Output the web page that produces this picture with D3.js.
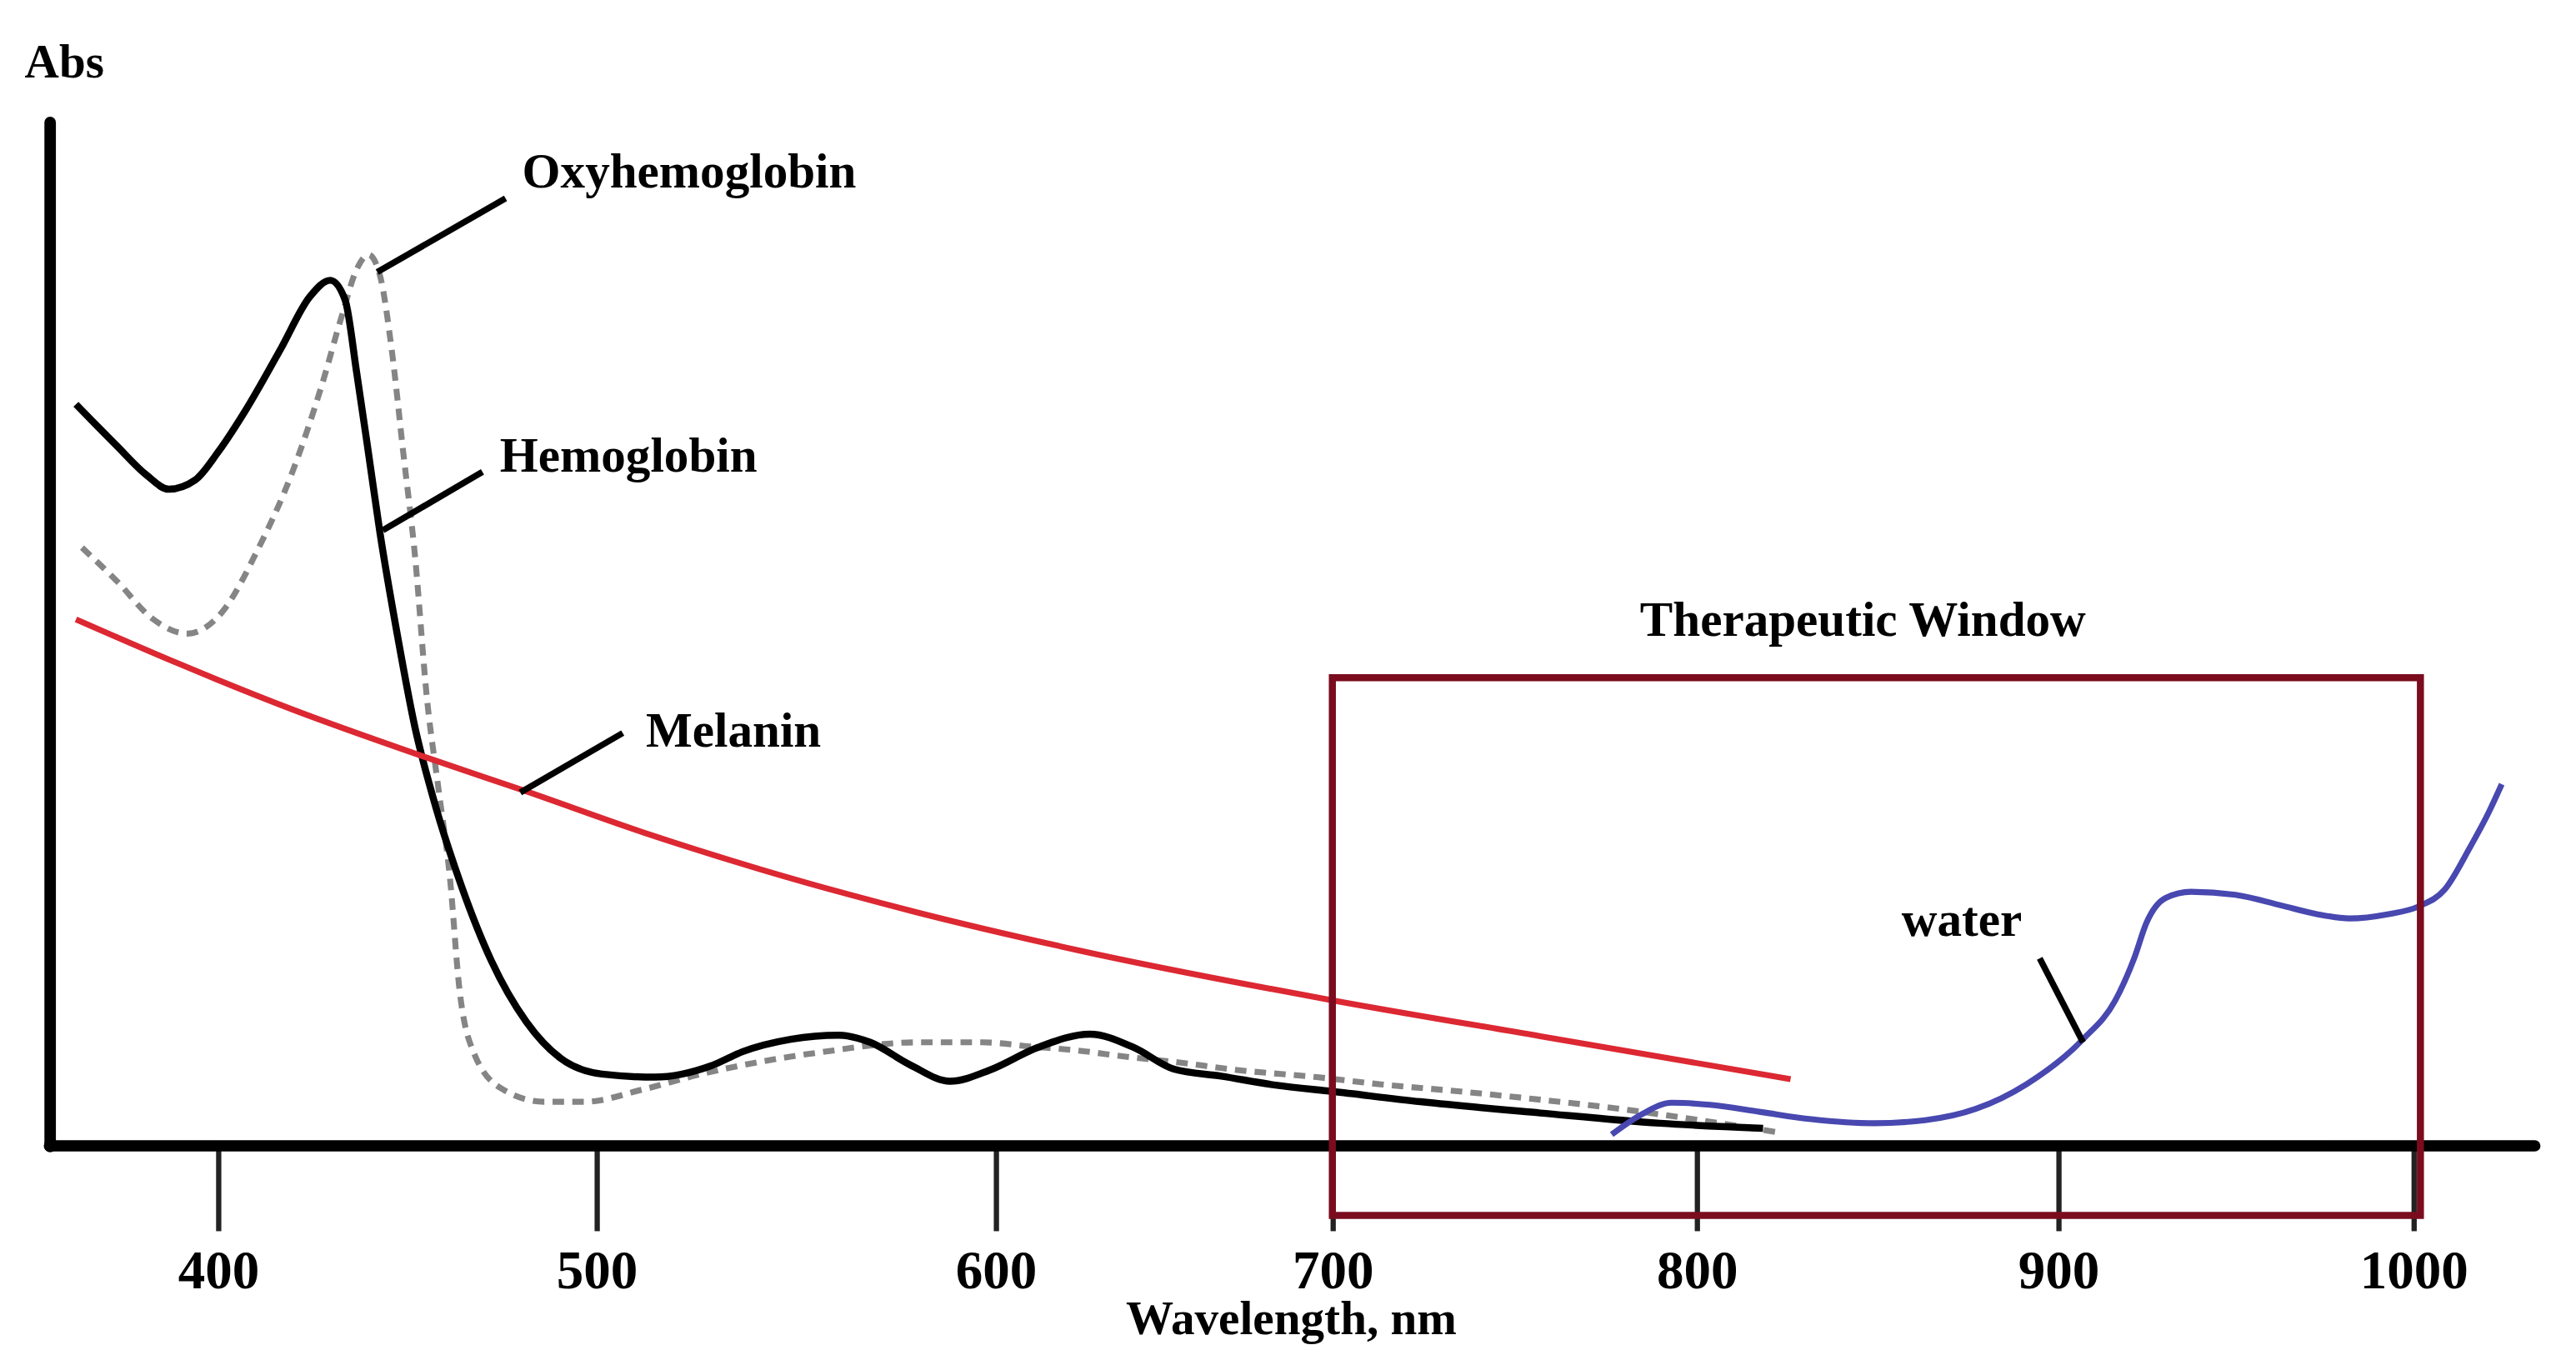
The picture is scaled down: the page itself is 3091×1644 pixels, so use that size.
<!DOCTYPE html>
<html>
<head>
    <title>Absorption spectra and the therapeutic window</title>
    <style>
        body, html {
            margin: 0;
            padding: 0;
            background: #fff;
            overflow: hidden;
        }
        svg { display: block; }
        .lbl {
            font-family: "Liberation Serif", "Times New Roman", serif;
            font-weight: bold;
            fill: #000;
        }
    </style>
    <script src="https://d3js.org/d3.v7.min.js"></script>
</head>
<body>
<script>
// ---- data: [wavelength nm, absorbance (arbitrary units, axis top = 1)]
const tickValues = [400, 500, 600, 700, 800, 900, 1000];

const hemoglobin = [
    [362.5, 0.724], [373.4, 0.683], [381.1, 0.655], [387.0, 0.641], [394.0, 0.650],
    [400.0, 0.677], [407.3, 0.718], [416.6, 0.778], [424.3, 0.829], [429.7, 0.845],
    [433.6, 0.826], [436.7, 0.754], [439.8, 0.676], [442.8, 0.599], [447.5, 0.497],
    [452.1, 0.408], [456.7, 0.342], [464.5, 0.252], [472.2, 0.181], [481.5, 0.121],
    [490.7, 0.085], [501.4, 0.070], [514.7, 0.067], [528.7, 0.078], [536.7, 0.092],
    [548.7, 0.104], [560.7, 0.108], [568.6, 0.101], [578.6, 0.079], [588.6, 0.063],
    [598.6, 0.074], [612.5, 0.096], [628.0, 0.109], [641.0, 0.096], [652.8, 0.075],
    [667.0, 0.068], [683.6, 0.059], [700.1, 0.053], [724.2, 0.043], [757.1, 0.032],
    [789.9, 0.022], [818.4, 0.017]
];

const oxyhemoglobin = [
    [364.1, 0.584], [373.4, 0.551], [382.6, 0.515], [391.9, 0.500], [401.1, 0.521],
    [410.4, 0.581], [419.7, 0.658], [427.4, 0.742], [432.8, 0.811], [436.7, 0.856],
    [439.8, 0.870], [442.8, 0.850], [445.9, 0.778], [449.0, 0.676], [452.1, 0.575],
    [455.2, 0.438], [458.3, 0.348], [461.4, 0.258], [463.7, 0.157], [467.6, 0.091],
    [475.3, 0.055], [486.1, 0.043], [496.9, 0.043], [511.7, 0.055], [526.3, 0.070],
    [541.0, 0.082], [555.6, 0.091], [580.6, 0.101], [596.6, 0.101], [610.2, 0.097],
    [624.4, 0.093], [638.6, 0.087], [652.8, 0.082], [671.7, 0.074], [695.4, 0.067],
    [713.3, 0.060], [735.1, 0.053], [757.1, 0.045], [779.0, 0.036], [800.8, 0.025],
    [822.9, 0.013]
];

const melanin = [
    [362.5, 0.514], [388.8, 0.472], [419.7, 0.426], [455.2, 0.379], [481.5, 0.346],
    [511.7, 0.306], [541.0, 0.270], [580.2, 0.228], [624.4, 0.191], [700.1, 0.142],
    [757.1, 0.107], [826.0, 0.065]
];

const water = [
    [776.7, 0.011], [784.6, 0.030], [793.2, 0.042], [803.7, 0.040], [817.7, 0.033],
    [831.7, 0.026], [849.2, 0.022], [863.2, 0.025], [877.2, 0.036], [891.2, 0.060],
    [907.0, 0.104], [916.1, 0.142], [921.4, 0.183], [924.9, 0.218], [930.3, 0.242],
    [937.4, 0.248], [949.9, 0.245], [962.4, 0.235], [973.1, 0.226], [982.0, 0.222],
    [992.7, 0.226], [1001.7, 0.234], [1008.8, 0.250], [1015.9, 0.291], [1021.3, 0.326],
    [1024.9, 0.353]
];

// callout text, where the text starts, and the leader line (curve end -> text end)
const callouts = [
    { text: 'Oxyhemoglobin', at: [480.4, 0.936], from: [442.1, 0.853], to: [476.0, 0.925] },
    { text: 'Hemoglobin',    at: [474.5, 0.658], from: [443.6, 0.601], to: [469.9, 0.658] },
    { text: 'Melanin',       at: [512.4, 0.390], from: [479.9, 0.345], to: [506.6, 0.403] },
    { text: 'water',         at: [856.7, 0.205], from: [907.0, 0.101], to: [894.9, 0.183] }
];

const windowNm = [700, 1002];
const windowAbs = [-0.068, 0.457];
const windowTitle = { text: 'Therapeutic Window', at: [846, 0.498] };

// ---- layout (drawing units; the page scales them up to the window)
const W = 1568, H = 834;
const tickPx = [132.6, 363, 606, 811, 1032.7, 1252.8, 1469];   // hand drawn, uneven spacing
const axisY0 = 697.5, axisYTop = 74, yAxisX = 30, xAxisEnd = 1543;

const svg = d3.select('body').append('svg')
    .attr('width', 3091)
    .attr('height', 1644)
    .attr('viewBox', `0 0 ${W} ${H}`);

const x = d3.scaleLinear().domain(tickValues).range(tickPx);
const y = d3.scaleLinear().domain([0, 1]).range([axisY0, axisYTop]);

// x ticks and labels
const xAxis = d3.axisBottom(x)
    .tickValues(tickValues)
    .tickSize(52)
    .tickSizeOuter(0)
    .tickFormat(d3.format('d'));

const gx = svg.append('g')
    .attr('transform', `translate(0,${y(0)})`)
    .call(xAxis);
gx.select('.domain').remove();
gx.selectAll('.tick line').attr('stroke', '#222').attr('stroke-width', 3.2);
gx.selectAll('.tick text')
    .attr('class', 'lbl')
    .attr('y', 87)
    .attr('dy', 0)
    .style('font-size', '33px');
gx.attr('font-family', null).attr('font-size', null);

// y axis: only the line
svg.append('g')
    .attr('transform', `translate(${yAxisX},0)`)
    .call(d3.axisLeft(y).tickValues([]).tickSizeOuter(0))
    .select('.domain')
    .attr('stroke', '#000')
    .attr('stroke-width', 7)
    .attr('stroke-linecap', 'round');

// curves
const line = d3.line()
    .x(d => x(d[0]))
    .y(d => y(d[1]))
    .curve(d3.curveMonotoneX);

svg.append('path').datum(oxyhemoglobin)
    .attr('d', line)
    .attr('fill', 'none')
    .attr('stroke', '#858585')
    .attr('stroke-width', 3.6)
    .attr('stroke-dasharray', '7,5');

svg.append('path').datum(hemoglobin)
    .attr('d', line)
    .attr('fill', 'none')
    .attr('stroke', '#000')
    .attr('stroke-width', 4.3)
    .attr('stroke-linejoin', 'round');

svg.append('path').datum(melanin)
    .attr('d', line)
    .attr('fill', 'none')
    .attr('stroke', '#dc2832')
    .attr('stroke-width', 3.6);

svg.append('path').datum(water)
    .attr('d', line)
    .attr('fill', 'none')
    .attr('stroke', '#4848b0')
    .attr('stroke-width', 3.6);

// thick x axis line
svg.append('line')
    .attr('x1', yAxisX).attr('x2', xAxisEnd)
    .attr('y1', y(0)).attr('y2', y(0))
    .attr('stroke', '#000')
    .attr('stroke-width', 6.8)
    .attr('stroke-linecap', 'round');

// therapeutic window box
svg.append('rect')
    .attr('x', x(windowNm[0]))
    .attr('y', y(windowAbs[1]))
    .attr('width', x(windowNm[1]) - x(windowNm[0]))
    .attr('height', y(windowAbs[0]) - y(windowAbs[1]))
    .attr('fill', 'none')
    .attr('stroke', '#7a0c1e')
    .attr('stroke-width', 4.3);

svg.append('text')
    .attr('class', 'lbl')
    .attr('x', x(windowTitle.at[0]))
    .attr('y', y(windowTitle.at[1]))
    .attr('text-anchor', 'middle')
    .style('font-size', '30px')
    .text(windowTitle.text);

// callouts
svg.selectAll('.leader')
    .data(callouts)
    .enter().append('line')
    .attr('class', 'leader')
    .attr('x1', d => x(d.from[0])).attr('y1', d => y(d.from[1]))
    .attr('x2', d => x(d.to[0])).attr('y2', d => y(d.to[1]))
    .attr('stroke', '#000')
    .attr('stroke-width', 3.8);

svg.selectAll('.callout')
    .data(callouts)
    .enter().append('text')
    .attr('class', 'lbl callout')
    .attr('x', d => x(d.at[0]))
    .attr('y', d => y(d.at[1]))
    .style('font-size', '30px')
    .text(d => d.text);

// axis titles
svg.append('text')
    .attr('class', 'lbl')
    .attr('x', 15)
    .attr('y', 47)
    .style('font-size', '29px')
    .text('Abs');

svg.append('text')
    .attr('class', 'lbl')
    .attr('x', 786)
    .attr('y', 812)
    .attr('text-anchor', 'middle')
    .style('font-size', '29px')
    .text('Wavelength, nm');
</script>
</body>
</html>
